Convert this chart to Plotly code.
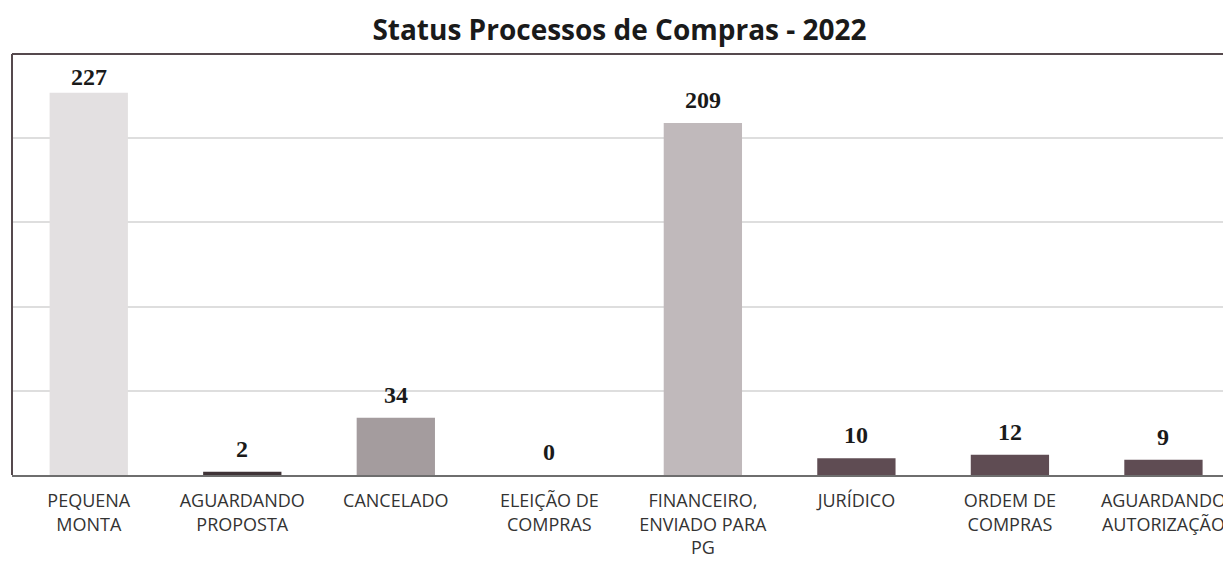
import plotly.graph_objects as go

categories = ["PEQUENA<br>MONTA", "AGUARDANDO<br>PROPOSTA", "CANCELADO", "ELEIÇÃO DE<br>COMPRAS",
              "FINANCEIRO,<br>ENVIADO PARA<br>PG", "JURÍDICO", "ORDEM DE<br>COMPRAS", "AGUARDANDO<br>AUTORIZAÇÃO"]
values = [227, 2, 34, 0, 209, 10, 12, 9]
colors = ["#e3e0e1", "#3f3337", "#a49c9e", "#5f4c53", "#c0b9bb", "#5f4c53", "#5f4c53", "#5f4c53"]

fig = go.Figure()
fig.add_trace(go.Bar(x=list(range(len(categories))), y=values, marker=dict(color=colors, line=dict(width=0)),
                     width=0.51, hoverinfo="skip"))

for i, v in enumerate(values):
    fig.add_annotation(x=i, y=v, text="<b>%d</b>" % v, showarrow=False, yanchor="bottom",
                       yshift=1 if v > 220 else 8,
                       font=dict(family="Liberation Serif", size=24, color="#1a1a1a"))

fig.update_layout(
    width=1223, height=555,
    margin=dict(l=4, r=0, t=46, b=88),
    paper_bgcolor="white", plot_bgcolor="white",
    showlegend=False,
    title=dict(text="<b>Status Processos de Compras - 2022</b>", x=0.5, xanchor="center",
               y=0.96, yanchor="middle",
               font=dict(family="Open Sans", size=28, color="#1a1a1a")),
    xaxis=dict(tickmode="array", tickvals=list(range(len(categories))), ticktext=categories,
               range=[-0.5, 7.44], showgrid=False, showline=True, linecolor="#6e6e6e", linewidth=1.5,
               ticks="", ticklabelstandoff=9, automargin=False,
               tickfont=dict(family="Open Sans", size=18, color="#333333"), zeroline=False),
    yaxis=dict(range=[0, 250], tickvals=[50, 100, 150, 200], showticklabels=False, automargin=False,
               showgrid=True, gridcolor="#dedede", gridwidth=1.5, zeroline=False, showline=False),
    shapes=[
        dict(type="line", xref="paper", yref="paper", x0=0, x1=0, y0=0, y1=1,
             line=dict(color="#55494d", width=2)),
        dict(type="line", xref="paper", yref="paper", x0=0, x1=1, y0=1, y1=1,
             line=dict(color="#55494d", width=2)),
    ],
)

fig.write_html("out.html")
